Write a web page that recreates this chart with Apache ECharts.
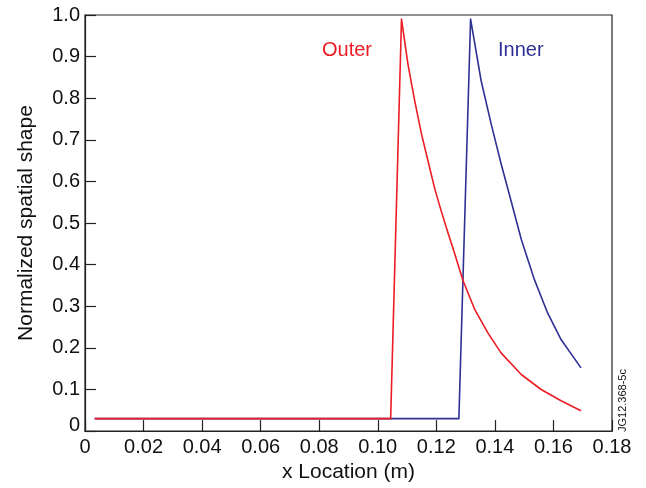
<!DOCTYPE html>
<html>
<head>
<meta charset="utf-8">
<script src="https://cdn.jsdelivr.net/npm/echarts@6/dist/echarts.min.js"></script>
<style>html,body{margin:0;padding:0;background:#fff;}#c{width:646px;height:488px;}</style>
</head>
<body>
<div id="c"></div>
<script>
var xTicks = [0, 0.02, 0.04, 0.06, 0.08, 0.10, 0.12, 0.14, 0.16, 0.18];
var yTicks = [0, 0.1, 0.2, 0.3, 0.4, 0.5, 0.6, 0.7, 0.8, 0.9, 1.0];
var outerX = [0.0033, 0.1044, 0.1081, 0.1103, 0.1126, 0.1149, 0.1171, 0.1194, 0.1217, 0.1240, 0.1262, 0.1291, 0.1330, 0.1376, 0.1421, 0.1490, 0.1558, 0.1626, 0.1694];
var outerY = [0.030, 0.030, 0.990, 0.882, 0.794, 0.715, 0.651, 0.584, 0.528, 0.476, 0.428, 0.362, 0.294, 0.236, 0.188, 0.136, 0.100, 0.073, 0.049];
var innerX = [0.0033, 0.1277, 0.1317, 0.1353, 0.1387, 0.1421, 0.1456, 0.1490, 0.1535, 0.1580, 0.1626, 0.1694];
var innerY = [0.030, 0.030, 0.990, 0.842, 0.739, 0.643, 0.551, 0.461, 0.364, 0.284, 0.220, 0.152];

function pairs(xs, ys) { return xs.map(function (x, i) { return [x, ys[i]]; }); }

var FONT = 'Liberation Sans, Arial, Helvetica, sans-serif';
var RED = '#ec1c24';
var BLUE = '#2e3192';

var chart = echarts.init(document.getElementById('c'), null, {renderer: 'canvas'});
chart.setOption({
  animation: false,
  backgroundColor: '#fff',
  grid: {left: 85, right: 34, top: 15, bottom: 55, show: true, borderColor: '#222', borderWidth: 1.2, backgroundColor: 'transparent'},
  xAxis: {
    type: 'value', min: 0, max: 0.18, interval: 0.02,
    name: 'x Location (m)', nameLocation: 'middle', nameGap: 28,
    nameTextStyle: {fontFamily: FONT, fontSize: 21, color: '#111'},
    axisLine: {show: true, lineStyle: {color: '#222', width: 1.2}},
    axisTick: {show: true, inside: true, length: 11, lineStyle: {color: '#222', width: 1.2}},
    splitLine: {show: false},
    axisLabel: {
      fontFamily: FONT, fontSize: 20, color: '#111', margin: 6,
      formatter: function (v) {
        for (var i = 0; i < xTicks.length; i++) {
          if (Math.abs(v - xTicks[i]) < 1e-9) return i === 0 ? '0' : xTicks[i].toFixed(2);
        }
        return '';
      }
    }
  },
  yAxis: {
    type: 'value', min: 0, max: 1, interval: 0.1,
    name: 'Normalized spatial shape', nameLocation: 'middle', nameGap: 48,
    nameTextStyle: {fontFamily: FONT, fontSize: 21, color: '#111'},
    axisLine: {show: true, lineStyle: {color: '#222', width: 1.2}},
    axisTick: {show: true, inside: true, length: 11, lineStyle: {color: '#222', width: 1.2}},
    splitLine: {show: false},
    axisLabel: {
      fontFamily: FONT, fontSize: 20, color: '#111', margin: 5,
      formatter: function (v) {
        for (var i = 0; i < yTicks.length; i++) {
          if (Math.abs(v - yTicks[i]) < 1e-9) return i === 0 ? '{z|0}' : yTicks[i].toFixed(1);
        }
        return '';
      },
      rich: {z: {fontFamily: FONT, fontSize: 20, color: '#111', padding: [0, 0, 12, 0]}}
    }
  },
  series: [
    {name: 'Outer', type: 'line', data: pairs(outerX, outerY), showSymbol: false, symbol: 'none',
     lineStyle: {color: RED, width: 1.6, join: 'round'}, itemStyle: {color: RED}, z: 3},
    {name: 'Inner', type: 'line', data: pairs(innerX, innerY), showSymbol: false, symbol: 'none',
     lineStyle: {color: BLUE, width: 1.6, join: 'round'}, itemStyle: {color: BLUE}, z: 2}
  ],
  graphic: [
    {type: 'text', left: 322, top: 40, style: {text: 'Outer', fill: RED, font: '20px ' + FONT}},
    {type: 'text', left: 498, top: 40, style: {text: 'Inner', fill: BLUE, font: '20px ' + FONT}},
    {type: 'text', x: 628, y: 432, rotation: Math.PI / 2,
     style: {text: 'JG12.368-5c', fill: '#111', font: '11px ' + FONT, textAlign: 'left', textVerticalAlign: 'bottom'}}
  ]
});
</script>
</body>
</html>
